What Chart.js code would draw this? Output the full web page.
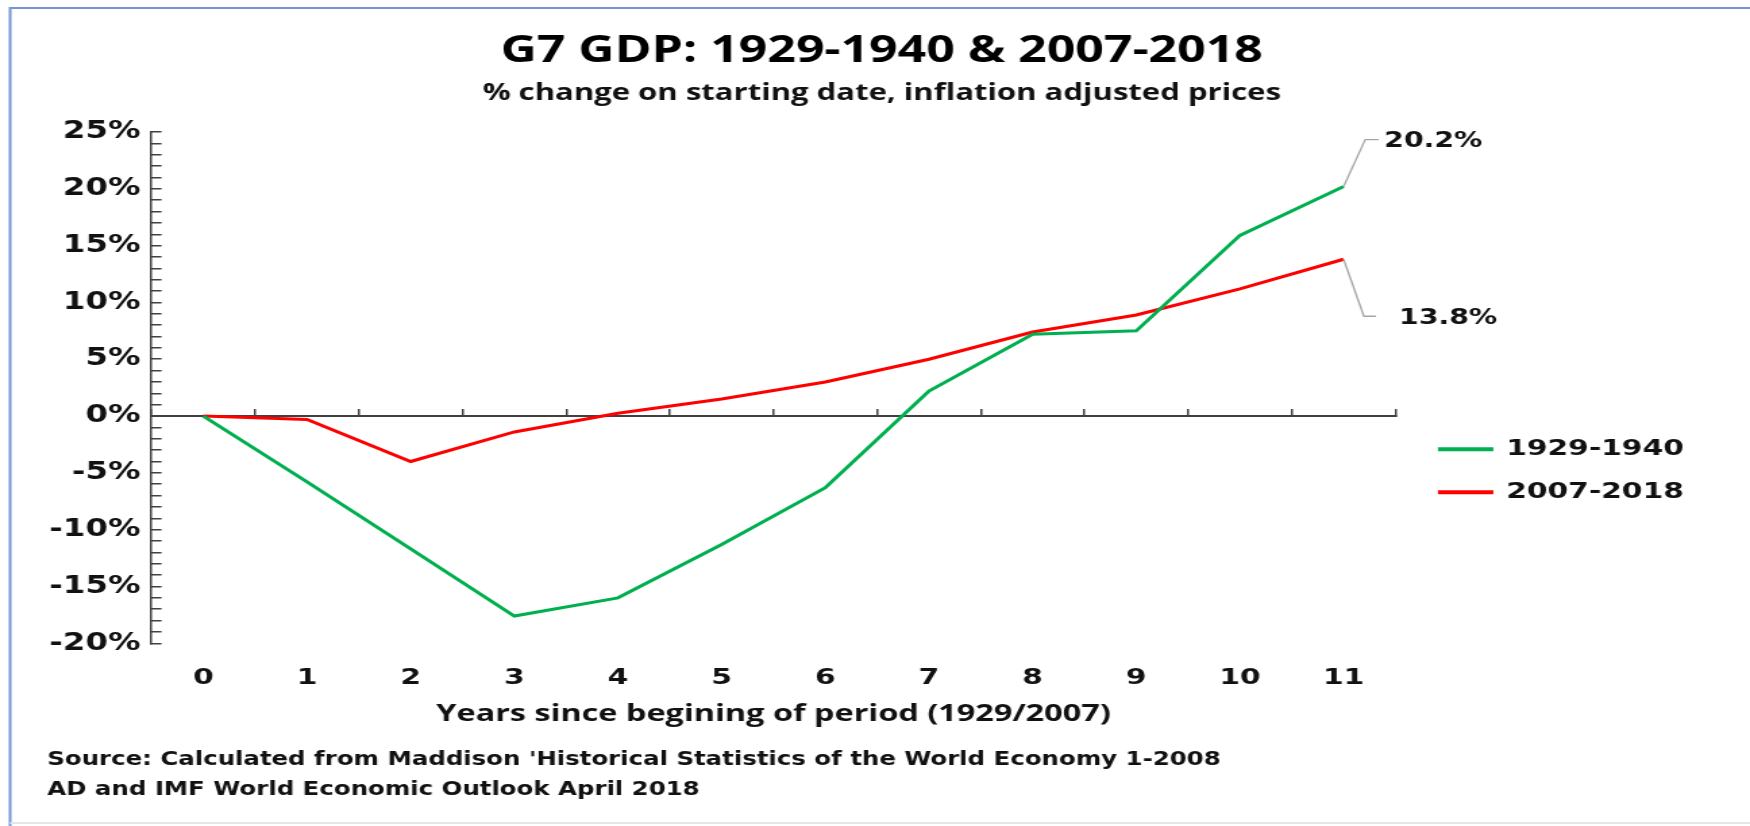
<!DOCTYPE html>
<html>
<head>
<meta charset="utf-8">
<script src="https://cdn.jsdelivr.net/npm/chart.js@4.4.1/dist/chart.umd.min.js"></script>
<style>
  html, body { margin: 0; padding: 0; background: #fff; overflow: hidden; }
  /* the original picture is stretched sideways, so the chart is drawn narrow and widened */
  #wrap { width: 1296px; height: 826px; transform: scale(1.35031, 1); transform-origin: 0 0; }
  #chart { display: block; }
</style>
</head>
<body>
<div id="wrap"><canvas id="chart" width="1296" height="826"></canvas></div>
<script>
// data
var years = ['0', '1', '2', '3', '4', '5', '6', '7', '8', '9', '10', '11'];
var gdp1929 = [0, -5.8, -11.7, -17.6, -16.0, -11.3, -6.3, 2.2, 7.2, 7.5, 15.9, 20.2];
var gdp2007 = [0, -0.3, -4.0, -1.4, 0.25, 1.5, 3.0, 5.0, 7.4, 8.9, 11.2, 13.8];
var seriesNames = ['1929-1940', '2007-2018'];
var yTicks = { min: -20, max: 25, major: 5 };

var titleText = 'G7 GDP: 1929-1940 & 2007-2018';
var subtitleText = '% change on starting date, inflation adjusted prices';
var xTitleText = 'Years since begining of period (1929/2007)';
var sourceLines = [
  "Source: Calculated from Maddison 'Historical Statistics of the World Economy 1-2008",
  'AD and IMF World Economic Outlook April 2018'
];

// leader lines from the last point to the value labels (canvas px)
var leaderOffsets = [
  { bendX: 16, dy: -47, endX: 26, textX: 30 },
  { bendX: 15, dy: 57, endX: 24, textX: 41 }
];
var legendShift = 12;

Chart.defaults.font.family = '"DejaVu Sans", Verdana, sans-serif';
Chart.defaults.color = '#111';

var frame = {
  id: 'frame',
  beforeDraw: function (chart) {
    var ctx = chart.ctx;
    ctx.save();
    ctx.fillStyle = '#fff';
    ctx.fillRect(0, 0, chart.width, chart.height);
    ctx.strokeStyle = '#7394d6';
    ctx.lineWidth = 2;
    ctx.beginPath();
    ctx.moveTo(7.5, chart.height);
    ctx.lineTo(7.5, 8);
    ctx.lineTo(chart.width, 8);
    ctx.stroke();
    ctx.strokeStyle = '#e6e6e6';
    ctx.beginPath();
    ctx.moveTo(7.5, 823);
    ctx.lineTo(chart.width, 823);
    ctx.stroke();
    ctx.restore();
  }
};

// nudge the legend a little to the right, away from the plot
var legendNudge = {
  id: 'legendNudge',
  afterLayout: function (chart) {
    chart.legend.left += legendShift;
    chart.legend.right += legendShift;
  }
};

var headings = {
  id: 'headings',
  afterDraw: function (chart) {
    var ctx = chart.ctx;
    ctx.save();
    ctx.textAlign = 'center';
    ctx.textBaseline = 'middle';
    ctx.fillStyle = '#000';
    ctx.font = 'bold 37px "Open Sans"';
    ctx.fillText(titleText, 653, 51);
    ctx.fillStyle = '#111';
    ctx.font = 'bold 23px "Open Sans"';
    ctx.fillText(subtitleText, 653, 93);
    ctx.restore();
  }
};

var endLabels = {
  id: 'endLabels',
  afterDatasetsDraw: function (chart) {
    var ctx = chart.ctx;
    chart.data.datasets.forEach(function (ds, i) {
      var meta = chart.getDatasetMeta(i);
      var pt = meta.data[meta.data.length - 1];
      var o = leaderOffsets[i];
      ctx.save();
      ctx.strokeStyle = '#a6a6a6';
      ctx.lineWidth = 1.3;
      ctx.beginPath();
      ctx.moveTo(pt.x, pt.y);
      ctx.lineTo(pt.x + o.bendX, pt.y + o.dy);
      ctx.lineTo(pt.x + o.endX, pt.y + o.dy);
      ctx.stroke();
      ctx.font = 'bold 21px "DejaVu Sans"';
      ctx.fillStyle = '#111';
      ctx.textBaseline = 'middle';
      ctx.fillText(ds.data[ds.data.length - 1].toFixed(1) + '%', pt.x + o.textX, pt.y + o.dy + 2);
      ctx.restore();
    });
  }
};

var source = {
  id: 'source',
  afterDraw: function (chart) {
    var ctx = chart.ctx;
    ctx.save();
    ctx.font = 'bold 19px "DejaVu Sans"';
    ctx.fillStyle = '#111';
    ctx.textBaseline = 'middle';
    var sx = 869 / ctx.measureText(sourceLines[0]).width;
    ctx.translate(35, 0);
    ctx.scale(sx, 1);
    ctx.fillText(sourceLines[0], 0, 760);
    ctx.fillText(sourceLines[1], 0, 790);
    ctx.restore();
  }
};

new Chart(document.getElementById('chart'), {
  type: 'line',
  data: {
    labels: years,
    datasets: [
      {
        label: seriesNames[0],
        data: gdp1929,
        borderColor: '#00b050',
        backgroundColor: '#00b050',
        borderWidth: 3,
        pointRadius: 0,
        tension: 0
      },
      {
        label: seriesNames[1],
        data: gdp2007,
        borderColor: '#ff0000',
        backgroundColor: '#ff0000',
        borderWidth: 3,
        pointRadius: 0,
        tension: 0
      }
    ]
  },
  options: {
    responsive: false,
    devicePixelRatio: 1,
    animation: false,
    layout: { padding: { left: 21, right: 51, top: 132, bottom: 93.5 } },
    plugins: {
      tooltip: { enabled: false },
      title: { display: false },
      legend: {
        position: 'right',
        align: 'center',
        title: { display: true, text: '', padding: { top: 65, bottom: 0 }, font: { size: 10 } },
        labels: {
          boxWidth: 38,
          boxHeight: 1,
          padding: 21,
          color: '#111',
          font: { size: 22, weight: 'bold' }
        }
      }
    },
    scales: {
      x: {
        type: 'category',
        offset: true,
        grid: { display: false, drawTicks: false },
        border: { display: false },
        ticks: { padding: 22, maxRotation: 0, font: { size: 22, weight: 'bold' }, color: '#111' },
        title: {
          display: true,
          text: xTitleText,
          color: '#111',
          font: { family: '"Open Sans"', size: 24, weight: 'bold' },
          padding: { top: -14, bottom: 4 }
        }
      },
      x2: {
        type: 'category',
        axis: 'x',
        position: { y: 0 },
        offset: true,
        labels: years,
        ticks: { display: false },
        grid: { offset: true, drawOnChartArea: false, tickLength: -8, color: '#404040', lineWidth: 1.5 },
        border: { color: '#404040', width: 2 }
      },
      y: {
        min: yTicks.min,
        max: yTicks.max,
        ticks: {
          stepSize: 1,
          autoSkip: false,
          padding: 15.6,
          color: '#111',
          font: { size: 24, weight: 'bold' },
          callback: function (v) { return v % yTicks.major === 0 ? v + '%' : ''; }
        },
        grid: { drawOnChartArea: false, tickLength: -7.4, color: '#404040', lineWidth: 1.5 },
        border: { color: '#404040', width: 1.5 }
      }
    }
  },
  plugins: [frame, legendNudge, headings, endLabels, source]
});
</script>
</body>
</html>
